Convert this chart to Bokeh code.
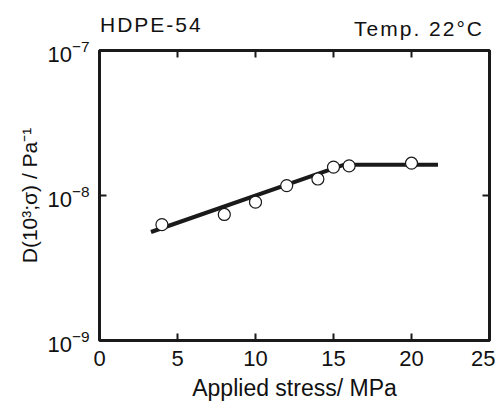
from bokeh.plotting import figure
from bokeh.models import Range1d, FixedTicker, LinearAxis, LogAxis, Div
from bokeh.layouts import column
from bokeh.embed import file_html
from bokeh.resources import INLINE

# data
stress = [4, 8, 10, 12, 14, 15, 16, 20]
compliance = [6.3e-9, 7.4e-9, 9.0e-9, 1.17e-8, 1.30e-8, 1.57e-8, 1.60e-8, 1.67e-8]
fit_stress = [3.3, 15.7, 21.7]
fit_compliance = [5.6e-9, 1.63e-8, 1.63e-8]
x_ticks = [0, 5, 10, 15, 20, 25]
y_ticks = [1e-9, 1e-8, 1e-7]
title_left = "HDPE-54"
title_right = "Temp. 22°C"
x_label = "Applied stress/ MPa"
y_label = "D(10³;σ) / Pa⁻¹"

FONT = "Liberation Sans"
INK = "#1a1a1a"
W = 495
HEAD = 30

p = figure(width=W, height=408 - HEAD, output_backend="svg", toolbar_location=None,
           x_range=Range1d(0, 25), y_range=Range1d(1e-9, 1e-7), y_axis_type="log",
           min_border_left=99, min_border_right=6, min_border_top=50 - HEAD,
           min_border_bottom=68, margin=0)
p.grid.visible = False
p.outline_line_color = INK
p.outline_line_width = 3
p.background_fill_color = "white"
p.border_fill_alpha = 0

def style(ax, labels=True):
    ax.minor_tick_line_color = None
    ax.major_tick_in = 7
    ax.major_tick_out = 0
    ax.major_tick_line_color = INK
    ax.major_tick_line_width = 2
    ax.axis_line_color = None
    ax.major_label_text_font = FONT
    ax.major_label_text_font_size = "22px" if labels else "2px"
    ax.major_label_text_color = "#111111"
    ax.major_label_text_alpha = 1.0 if labels else 0.0
    ax.major_label_standoff = 10 if labels else 0
    ax.axis_label_text_font = FONT
    ax.axis_label_text_font_style = "normal"
    ax.axis_label_text_color = "#111111"

xa = p.xaxis[0]
xa.ticker = FixedTicker(ticks=x_ticks)
style(xa)
xa.major_label_standoff = 10
xa.axis_label = x_label
xa.axis_label_text_font_size = "23px"
xa.axis_label_standoff = 6

ya = p.yaxis[0]
ya.ticker = FixedTicker(ticks=y_ticks)
style(ya)
ya.axis_label = y_label
ya.axis_label_text_font_size = "21px"
ya.axis_label_standoff = 3

top = LinearAxis(ticker=FixedTicker(ticks=x_ticks))
style(top, labels=False)
p.add_layout(top, "above")
right = LogAxis(ticker=FixedTicker(ticks=y_ticks))
style(right, labels=False)
p.add_layout(right, "right")

p.line(fit_stress, fit_compliance, line_color=INK, line_width=4)
p.scatter(stress, compliance, marker="circle", size=12, fill_color="white",
          line_color=INK, line_width=1.2)

head = (
    f'<div style="position:relative;width:{W}px;height:{HEAD}px;overflow:visible;'
    f'font-family:\'{FONT}\';font-size:21px;line-height:24px;color:#111111;letter-spacing:2px;">'
    f'<span style="position:absolute;left:100px;top:13px;">{title_left}</span>'
    f'<span style="position:absolute;right:11px;top:17px;">{title_right}</span>'
    '</div>'
)
div = Div(text=head, width=W, height=HEAD, margin=0,
          styles={"overflow": "visible", "z-index": "2"})

layout = column(div, p, spacing=0)
open("out.html", "w").write(file_html(layout, INLINE))
